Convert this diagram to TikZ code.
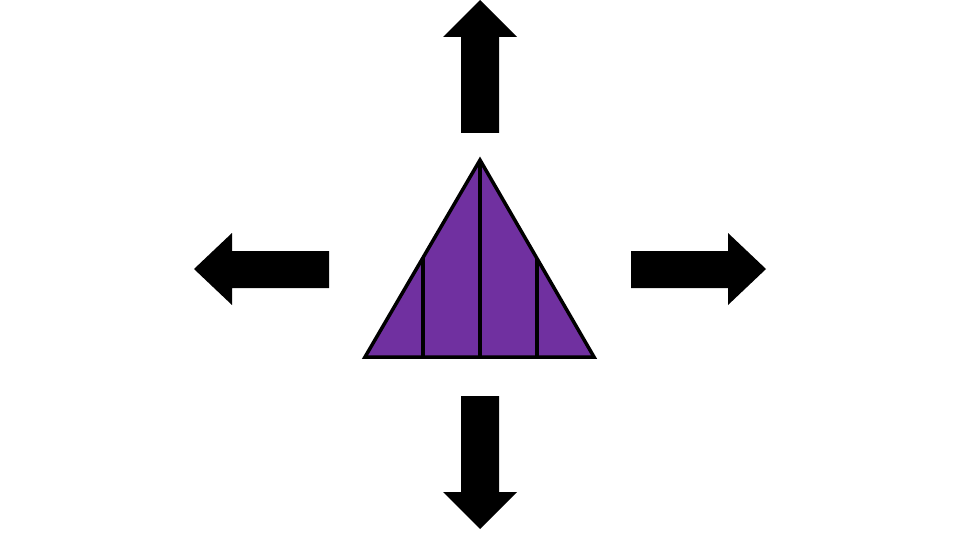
\documentclass[tikz,border=0pt]{standalone}
\definecolor{tripurple}{HTML}{7030A0}
\begin{document}
\begin{tikzpicture}[x=1pt,y=-1pt,
  arrowshape/.style={fill=black},
  triline/.style={draw=black,line width=3.5pt,line join=miter}]
\useasboundingbox (0,0) rectangle (960,540);
% arrows
\fill[arrowshape] (480,0) -- (517,37) -- (499,37) -- (499,133) -- (461,133) -- (461,37) -- (443,37) -- cycle;
\fill[arrowshape] (480,529) -- (517,492) -- (499,492) -- (499,396) -- (461,396) -- (461,492) -- (443,492) -- cycle;
\fill[arrowshape] (194,269) -- (232,233) -- (232,251) -- (329,251) -- (329,288) -- (232,288) -- (232,305) -- cycle;
\fill[arrowshape] (766,269) -- (728,233) -- (728,251) -- (631,251) -- (631,288) -- (728,288) -- (728,305) -- cycle;
% triangle
\coordinate (apex) at (480,160);
\coordinate (bl) at (365,357);
\coordinate (br) at (594,357);
\fill[tripurple] (apex) -- (bl) -- (br) -- cycle;
\begin{scope}
\clip (apex) -- (bl) -- (br) -- cycle;
\draw[triline] (423,357) -- (423,240);
\draw[triline] (480,357) -- (480,150);
\draw[triline] (537,357) -- (537,240);
\end{scope}
\draw[triline] (apex) -- (bl) -- (br) -- cycle;
\end{tikzpicture}
\end{document}
